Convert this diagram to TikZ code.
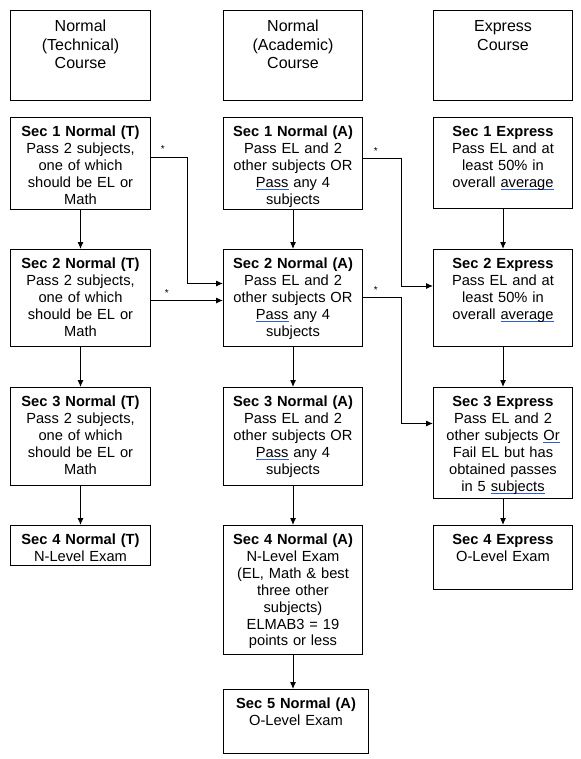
\documentclass[tikz,border=0pt]{standalone}
\usepackage{fontspec}
\setmainfont{Liberation Sans}
\usetikzlibrary{arrows.meta}
\definecolor{gramblue}{RGB}{48,96,208}
\newsavebox\grambox
\newcommand\gram[1]{\leavevmode\sbox\grambox{#1}\rlap{\color{gramblue}\rule[-3pt]{\wd\grambox}{1.1pt}}#1}
\newcommand\bodyfont{\fontsize{14.67}{16.9}\selectfont}
\newcommand\headfont{\fontsize{16}{18.7}\selectfont}
\tikzset{
  stage/.style={draw,line width=1pt,anchor=north west,align=center,inner xsep=0pt,inner ysep=0pt,
    text width=#1,text height=19pt,font=\bodyfont},
  stage/.default=140pt,
  head/.style={stage=#1,text height=21pt,font=\headfont},
  head/.default=140pt,
  star/.style={above=4pt,inner sep=0pt,font=\fontsize{10}{12}\selectfont}
}
\begin{document}
\begin{tikzpicture}[->,>={Latex[length=7pt,width=6pt]},x=1pt,y=-1pt,line width=1pt]
\useasboundingbox (0,0) rectangle (580,759);
\node[head,text depth=69pt] (h1) at (10,10) {Normal\\(Technical)\\Course};
\node[head=139pt,text depth=69pt] (h2) at (223,10) {Normal\\(Academic)\\Course};
\node[head=139pt,text depth=69pt] (h3) at (433,10) {Express\\Course};

\node[stage,text depth=73pt] (t1) at (10,117) {\textbf{Sec 1 Normal (T)}\\Pass 2 subjects,\\one of which\\should be EL or\\Math};
\node[stage,text depth=78pt] (t2) at (10,249) {\textbf{Sec 2 Normal (T)}\\Pass 2 subjects,\\one of which\\should be EL or\\Math};
\node[stage,text depth=79pt] (t3) at (10,387) {\textbf{Sec 3 Normal (T)}\\Pass 2 subjects,\\one of which\\should be EL or\\Math};
\node[stage,text depth=21pt] (t4) at (10,525) {\textbf{Sec 4 Normal (T)}\\N-Level Exam};

\node[stage=139pt,text depth=73pt] (a1) at (223,117) {\textbf{Sec 1 Normal (A)}\\Pass EL and 2\\other subjects OR\\\gram{Pass} any 4\\subjects};
\node[stage=139pt,text depth=78pt] (a2) at (223,249) {\textbf{Sec 2 Normal (A)}\\Pass EL and 2\\other subjects OR\\\gram{Pass} any 4\\subjects};
\node[stage=139pt,text depth=79pt] (a3) at (223,387) {\textbf{Sec 3 Normal (A)}\\Pass EL and 2\\other subjects OR\\\gram{Pass} any 4\\subjects};
\node[stage=139pt,text depth=110pt] (a4) at (223,525) {\textbf{Sec 4 Normal (A)}\\N-Level Exam\\(EL, Math \& best\\three other\\subjects)\\ELMAB3 = 19\\points or less};
\node[stage=145pt,text depth=45pt] (a5) at (223,689) {\textbf{Sec 5 Normal (A)}\\O-Level Exam};

\node[stage=139pt,text depth=72pt] (e1) at (433,117) {\textbf{Sec 1 Express}\\Pass EL and at\\least 50\% in\\overall \gram{average}};
\node[stage=139pt,text depth=78pt] (e2) at (433,249) {\textbf{Sec 2 Express}\\Pass EL and at\\least 50\% in\\overall \gram{average}};
\node[stage=139pt,text depth=92pt] (e3) at (433,387) {\textbf{Sec 3 Express}\\Pass EL and 2\\other subjects \gram{Or}\\Fail EL but has\\obtained passes\\in 5 \gram{subjects}};
\node[stage=139pt,text depth=45pt] (e4) at (433,525) {\textbf{Sec 4 Express}\\O-Level Exam};

\draw (t1.south) -- (t2.north);
\draw (t2.south) -- (t3.north);
\draw (t3.south) -- (t4.north);
\draw (a1.south) -- (a2.north);
\draw (a2.south) -- (a3.north);
\draw (a3.south) -- (a4.north);
\draw (a4.south) -- (a4.south |- a5.north);
\draw (e1.south) -- (e2.north);
\draw (e2.south) -- (e3.north);
\draw (e3.south) -- (e4.north);

\draw ([yshift=6pt]t1.east) -- node[star,pos=.33] {*} ++(36,0) |- ([yshift=14.5pt]a2.west);
\draw ([yshift=-2.5pt]t2.east) -- node[star,pos=.22] {*} ([yshift=-2.5pt]a2.west);
\draw ([yshift=4.5pt]a1.east) -- node[star,pos=.34] {*} ++(38,0) |- ([yshift=12pt]e2.west);
\draw ([yshift=0.5pt]a2.east) -- node[star,pos=.34] {*} ++(38,0) |- ([yshift=19.5pt]e3.west);
\end{tikzpicture}
\end{document}
